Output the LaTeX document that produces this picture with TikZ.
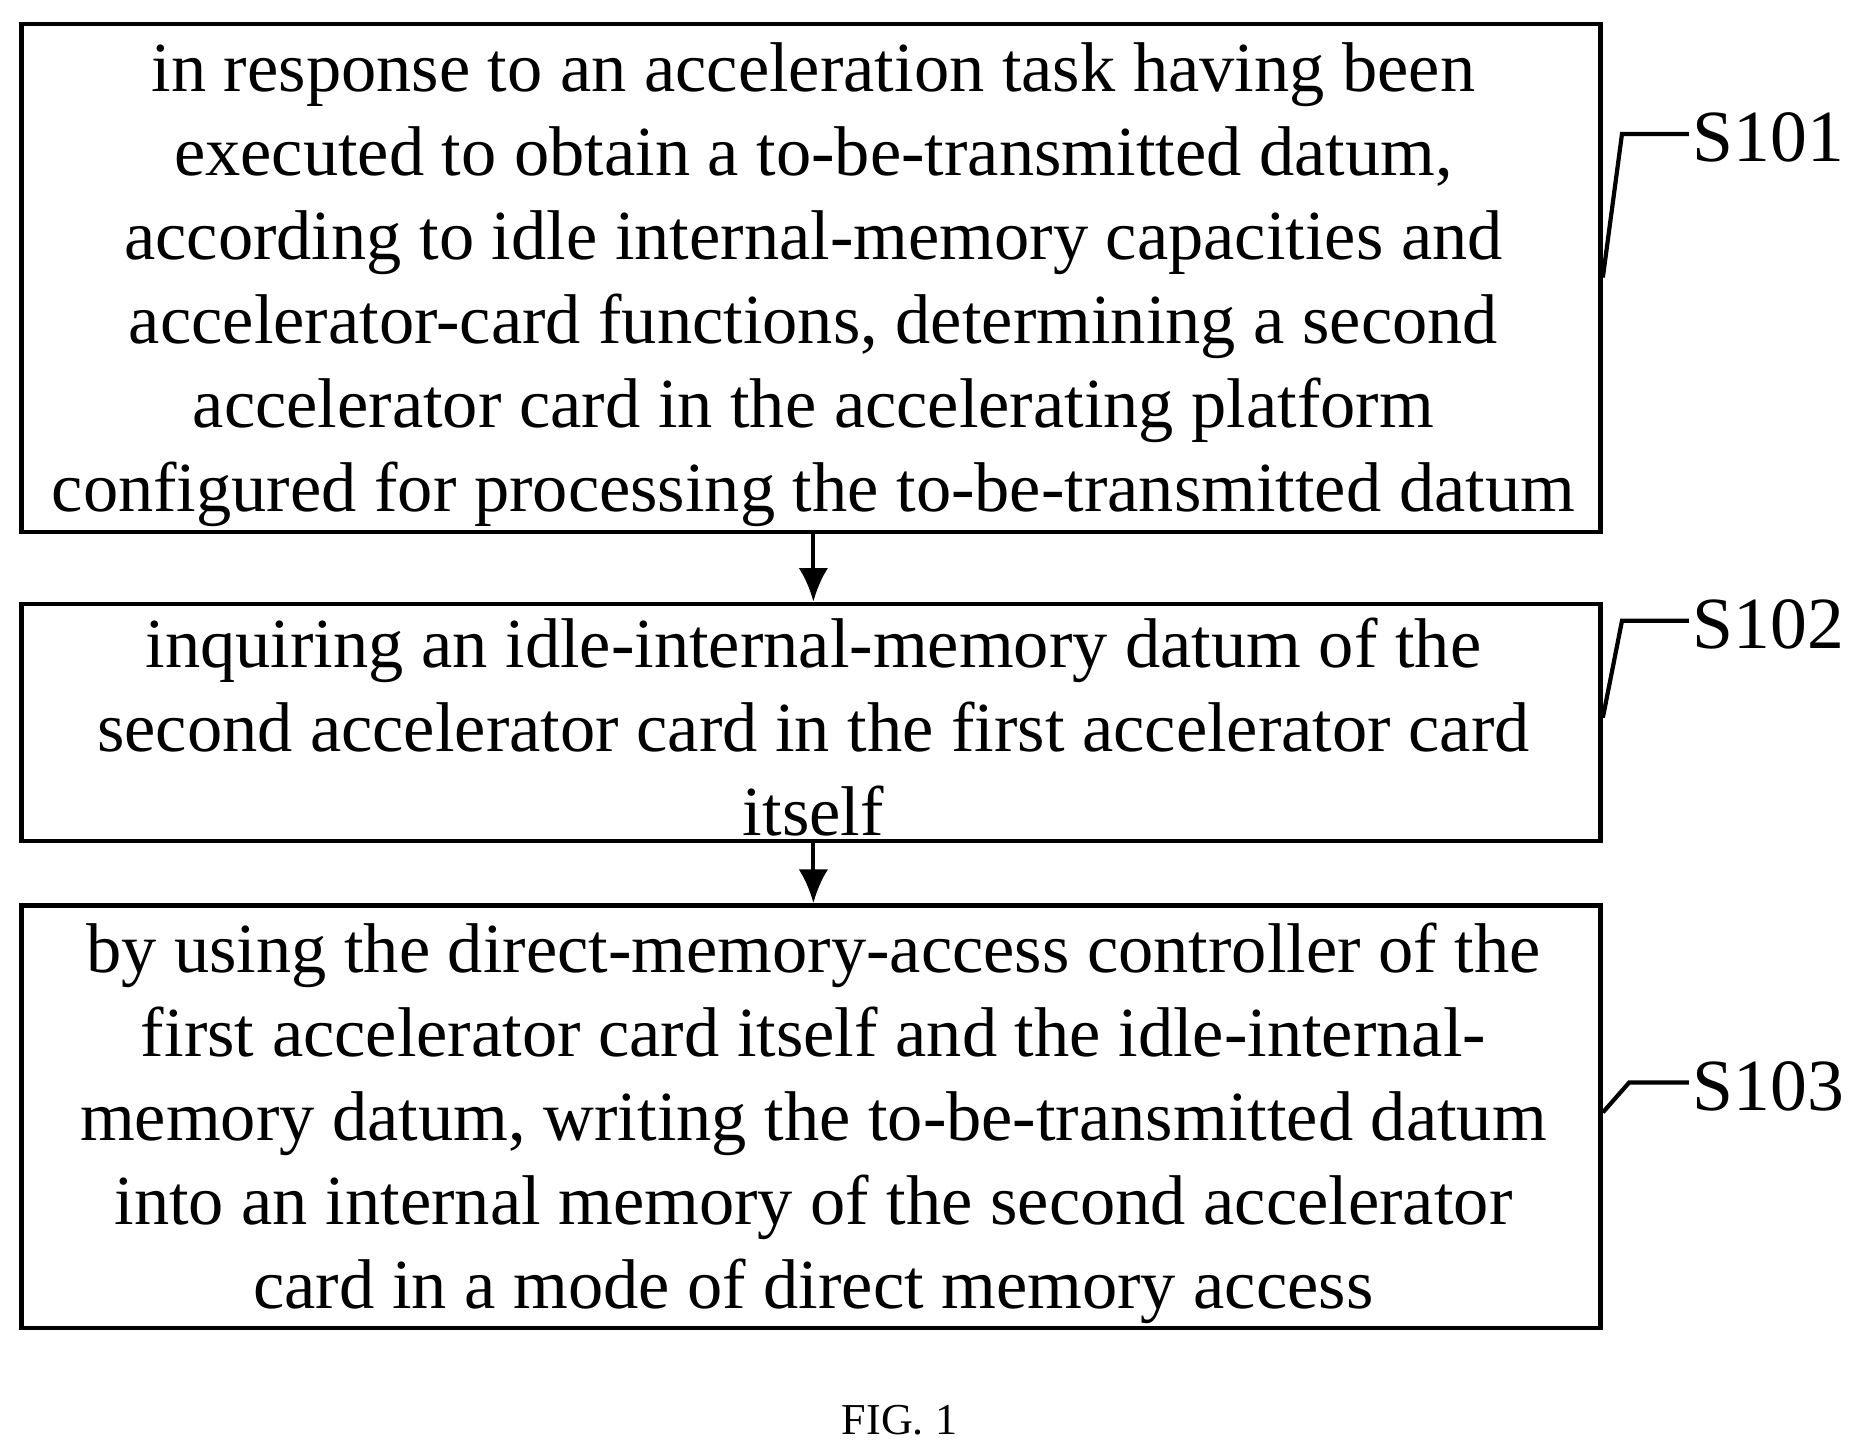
\documentclass[tikz,border=0pt]{standalone}
\usepackage{fontspec}
\usetikzlibrary{arrows.meta}
\setmainfont{Liberation Serif}
\begin{document}
\begin{tikzpicture}[x=0.02cm,y=-0.02cm,
  box/.style={draw,line width=2pt},
  txt/.style={align=center,font=\fontsize{33.5}{40}\selectfont,inner sep=0pt},
  lab/.style={font=\fontsize{35}{40}\selectfont,anchor=west,inner sep=0pt},
  arr/.style={line width=2pt,-{Latex[length=16pt,width=14pt]}},
  lead/.style={line width=2pt}]
\useasboundingbox (0,0) rectangle (1560,1210);
\draw[box] (18,20) rectangle (1338,445);
\draw[box] (18,505) rectangle (1338,703);
\draw[box] (18,757) rectangle (1338,1110);
\node[txt] (t1) at (680,238) {in response to an acceleration task having been\\executed to obtain a to-be-transmitted datum,\\according to idle internal-memory capacities and\\accelerator-card functions, determining a second\\accelerator card in the accelerating platform\\configured for processing the to-be-transmitted datum};
\node[txt] (t2) at (680,608) {inquiring an idle-internal-memory datum of the\\second accelerator card in the first accelerator card\\itself};
\node[txt] (t3) at (680,939) {by using the direct-memory-access controller of the\\first accelerator card itself and the idle-internal-\\memory datum, writing the to-be-transmitted datum\\into an internal memory of the second accelerator\\card in a mode of direct memory access};
\coordinate (a1) at (680,445); \coordinate (b1) at (680,503);
\coordinate (a2) at (680,703); \coordinate (b2) at (680,755);
\draw[arr] (a1) -- (b1);
\draw[arr] (a2) -- (b2);
\node[lab] (s1) at (1415,115) {S101};
\node[lab] (s2) at (1415,522) {S102};
\node[lab] (s3) at (1415,908) {S103};
\draw[lead] (1340,232) -- (1356,112) -- (1412,112);
\draw[lead] (1340,600) -- (1356,519) -- (1412,519);
\draw[lead] (1340,930) -- (1362,905) -- (1412,905);
\node[font=\fontsize{21}{24}\selectfont] (fig) at (752,1187) {FIG. 1};
\end{tikzpicture}
\end{document}
